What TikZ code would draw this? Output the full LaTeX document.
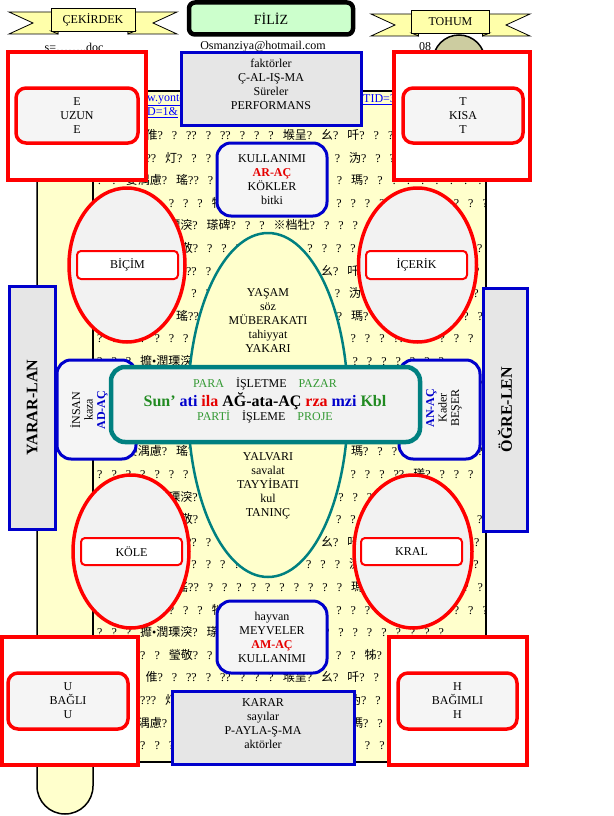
\documentclass[tikz,border=0pt]{standalone}
\usepackage{fontspec}
\setmainfont{Liberation Serif}
\newfontfamily\cjk{Noto Sans CJK SC}
\usetikzlibrary{shapes.geometric}

\definecolor{scrollyellow}{RGB}{255,255,204}
\definecolor{ribbonyellow}{RGB}{255,255,170}
\definecolor{folddark}{RGB}{204,204,102}
\definecolor{filizgreen}{RGB}{204,255,204}
\definecolor{rollgray}{RGB}{204,204,160}
\definecolor{boxblue}{RGB}{0,0,204}
\definecolor{boxgray}{RGB}{230,230,230}
\definecolor{cardgray}{RGB}{245,245,245}
\definecolor{ovalgray}{RGB}{242,242,242}
\definecolor{tealline}{RGB}{0,128,128}
\definecolor{pgreen}{RGB}{51,153,51}
\definecolor{dgreen}{RGB}{34,139,34}
\definecolor{wordblue}{RGB}{0,0,204}
\definecolor{wordred}{RGB}{230,0,0}
\definecolor{linkblue}{RGB}{0,0,255}

\begin{document}
\begin{tikzpicture}[x=1pt, y=-1pt,
  every node/.style={inner sep=0pt, font=\fontsize{12}{14}\selectfont},
  txt/.style={align=center},
  ribbon/.style={draw=black, line width=0.8pt, fill=ribbonyellow},
  fold/.style={draw=black, line width=0.8pt, fill=folddark},
  scroll/.style={draw=black, line width=1.5pt, fill=scrollyellow},
  garble/.style={anchor=west, font={\fontsize{12}{14}\selectfont\spaceskip=8pt\relax}},
  link/.style={anchor=west, text=linkblue},
  redframe/.style={draw=red, line width=3.5pt, fill=white},
  redcard/.style={draw=red, line width=3.5pt, fill=cardgray, rounded corners=10pt, align=center},
  redoval/.style={ellipse, draw=red, line width=3.5pt, fill=ovalgray},
  redtag/.style={draw=red, line width=2pt, fill=white, rounded corners=4pt},
  greybox/.style={draw=boxblue, line width=3pt, fill=boxgray},
  bluecard/.style={draw=boxblue, line width=3pt, fill=cardgray, rounded corners=14pt, align=center},
  sidebar/.style={draw=boxblue, line width=3pt, fill=boxgray, rotate=90,
    font=\bfseries\fontsize{16}{18}\selectfont},
  tealoval/.style={ellipse, draw=tealline, line width=2.5pt, fill=scrollyellow},
  corebox/.style={draw=tealline, line width=4.5pt, fill=ovalgray, rounded corners=14pt}]
\useasboundingbox (0,0) rectangle (613,816);

\foreach \cx/\dy/\hw/\bw/\txt/\nm in {93/0/84/42/ÇEKİRDEK/cekirdek, 450.5/2/79.5/39/TOHUM/tohum} {
  \draw[ribbon] ({\cx-\hw},{12+\dy}) -- ({\cx-\bw+7},{12+\dy}) -- ({\cx-\bw+7},{34+\dy})
    -- ({\cx-\hw},{34+\dy}) -- ({\cx-\hw+24},{23+\dy}) -- cycle;
  \draw[ribbon] ({\cx+\hw},{12+\dy}) -- ({\cx+\bw-7},{12+\dy}) -- ({\cx+\bw-7},{34+\dy})
    -- ({\cx+\hw},{34+\dy}) -- ({\cx+\hw-24},{23+\dy}) -- cycle;
  \draw[fold] ({\cx-\bw},{31+\dy}) -- ({\cx-\bw+7},{34+\dy}) -- ({\cx-\bw+7},{31+\dy}) -- cycle;
  \draw[fold] ({\cx+\bw},{31+\dy}) -- ({\cx+\bw-7},{34+\dy}) -- ({\cx+\bw-7},{31+\dy}) -- cycle;
  \node[ribbon, minimum width={2*\bw}, minimum height=23pt] (\nm) at (\cx,{19.5+\dy}) {\txt};
}
\node[draw, line width=4.5pt, rounded corners=6pt, fill=filizgreen, minimum width=164pt,
  minimum height=32pt, font=\fontsize{14}{16}\selectfont] (filiz) at (271,18.5) {FİLİZ};

\node (sdoc) at (74,47) {s=……..doc};
\node (mail) at (263,47) {Osmanziya@hotmail.com};
\node[anchor=west] (date) at (419,47) {08};
\node[circle, draw, line width=1.5pt, fill=rollgray, minimum size=52pt] (roll) at (459,61) {};

\draw[scroll, rounded corners=28pt] (37,91) -- (37,814) -- (93,814) -- (93,91) -- cycle;
\draw[scroll] (93,91) rectangle (486,762);

\node[link] (urla) at (147,100) {\underline{w.yontem}};
\node[link] (urlb) at (147,113) {\underline{D=1\&}};
\node[link] (urlc) at (363,100) {\underline{TID=3}};
\begin{scope}
\clip (94,123) rectangle (485,760);
\foreach \r in {0,...,4}
  \foreach \s [count=\k from 0] in {
    ? ?? ? {\cjk 倠}? ? ?? ? ?? ? ? ? {\cjk 堠呈}? {\cjk 幺}? {\cjk 吀}? ? ? ? ? ? ? ? ? ? ? ?,
    ? ? ? ??? {\cjk 灯}? ? ? ? ? ? ? ? ? ? ? ? {\cjk 沩}? ? ? {\cjk 梠}? ? ? ? ? ? ? ?,
    ? ? {\cjk 嫈湡慮}? {\cjk 瑤}?? ? ? ? ? ? ? ? ? ? ? {\cjk 瑪}? ? ? ? ? ? ? ? ? ?,
    ? ? ? ? ? ? ? ? {\cjk 牠}• ? ? ? ? ? ? ? ? ? ? ? ?? {\cjk 瑳}? ? ? ? ? ? ?,
    ? ? ? {\cjk 攠}•{\cjk 潤瑮湥}? {\cjk 瑹碑}? ? ? {\cjk ※档牡}? ? ? ? ? ? ? ? ? ?,
    ? ? ? ? ? {\cjk 瑩敬}? ? ? ? ? ? ? ? ? ? ? ? {\cjk 牬}? ? ? ? ? ? ? ? ?}
    \node[garble] (g\r\k) at (97,{135+22.6*(6*\r+\k)}) {\s};
\end{scope}

\node[tealoval, minimum width=160pt, minimum height=344pt] (seed) at (268,405) {};
\node[txt] (yasam) at (268,321) {YAŞAM\\söz\\MÜBERAKATI\\tahiyyat\\YAKARI};
\node[txt] (yalvari) at (268,486) {YALVARI\\savalat\\TAYYİBATI\\kul\\TANINÇ};

\node[redoval, minimum width=116pt, minimum height=154pt] (bicim) at (127,265) {};
\node[redtag, minimum width=101pt, minimum height=28pt] (bicimtag) at (127.5,265) {BİÇİM};
\node[redoval, minimum width=118pt, minimum height=154pt] (icerik) at (417.5,265) {};
\node[redtag, minimum width=101pt, minimum height=28pt] (iceriktag) at (416.5,265) {İÇERİK};
\node[redoval, minimum width=116pt, minimum height=153pt] (kole) at (131,551.5) {};
\node[redtag, minimum width=101pt, minimum height=27pt] (koletag) at (131.5,551.5) {KÖLE};
\node[redoval, minimum width=118pt, minimum height=153pt] (kral) at (413,551.5) {};
\node[redtag, minimum width=101pt, minimum height=27pt] (kraltag) at (411.5,551.5) {KRAL};

\node[bluecard, minimum width=79pt, minimum height=99pt] (insan) at (96.5,409.5) {};
\node[txt, rotate=90, font=\fontsize{12}{12.5}\selectfont] (insantxt) at (89,410)
  {İNSAN\\kaza\\\textcolor{wordblue}{\bfseries AD-AÇ}};
\node[bluecard, minimum width=81pt, minimum height=99pt] (anac) at (439.5,409.5) {};
\node[txt, rotate=90, font=\fontsize{12}{12.5}\selectfont] (anactxt) at (444,408)
  {\textcolor{wordblue}{\bfseries AN-AÇ}\\Kader\\BEŞER};

\node[corebox, minimum width=309pt, minimum height=75pt] (core) at (265.5,404.5) {};
\node (para) at (265,384) {\textcolor{pgreen}{PARA}\quad İŞLETME\quad\textcolor{pgreen}{PAZAR}};
\node[font=\bfseries\fontsize{16}{19}\selectfont] (sunati) at (265,401)
  {\textcolor{dgreen}{Sun’} \textcolor{wordblue}{ati} \textcolor{wordred}{ila} AĞ-ata-AÇ
   \textcolor{wordred}{rza} \textcolor{wordblue}{mzi} \textcolor{dgreen}{Kbl}};
\node (parti) at (265,417) {\textcolor{pgreen}{PARTİ}\quad İŞLEME\quad\textcolor{pgreen}{PROJE}};

\node[bluecard, minimum width=110pt, minimum height=73pt] (kokler) at (272,179.5)
  {KULLANIMI\\\textcolor{wordred}{\bfseries AR-AÇ}\\KÖKLER\\bitki};
\node[bluecard, minimum width=110pt, minimum height=72pt] (meyve) at (272,637)
  {hayvan\\MEYVELER\\\textcolor{wordred}{\bfseries AM-AÇ}\\KULLANIMI};

\node[sidebar, minimum width=243pt, minimum height=46pt] (yararlan) at (32,407.5) {YARAR-LAN};
\node[sidebar, minimum width=243pt, minimum height=44pt] (ogrelen) at (505,409.5) {ÖĞRE-LEN};

\node[redframe, minimum width=138pt, minimum height=128pt] (eframe) at (77,116) {};
\node[redcard, minimum width=122pt, minimum height=55pt] (ecard) at (77,115.5) {E\\UZUN\\E};
\node[redframe, minimum width=136pt, minimum height=128pt] (tframe) at (462,116) {};
\node[redcard, minimum width=120pt, minimum height=55pt] (tcard) at (463,115.5) {T\\KISA\\T};
\node[redframe, minimum width=136pt, minimum height=128pt] (uframe) at (69.75,701) {};
\node[redcard, minimum width=120pt, minimum height=56pt] (ucard) at (68,701) {U\\BAĞLI\\U};
\node[redframe, minimum width=138pt, minimum height=128pt] (hframe) at (458,701) {};
\node[redcard, minimum width=119pt, minimum height=56pt] (hcard) at (457.5,701) {H\\BAĞIMLI\\H};

\node[greybox, minimum width=180pt, minimum height=72pt] (calisma) at (271,89) {};
\node[txt] (calismatxt) at (271,84) {faktörler\\Ç-AL-IŞ-MA\\Süreler\\PERFORMANS};
\node[greybox, minimum width=182pt, minimum height=73pt] (karar) at (263,727.5) {};
\node[txt] (karartxt) at (263,724) {KARAR\\sayılar\\P-AYLA-Ş-MA\\aktörler};
\end{tikzpicture}
\end{document}
